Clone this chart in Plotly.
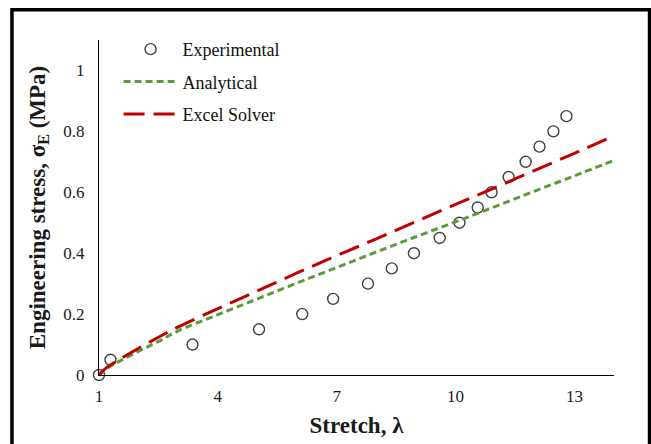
import plotly.graph_objects as go

# Experimental data (stretch, engineering stress)
exp_stretch = [1.0, 1.29, 3.36, 5.04, 6.13, 6.91, 7.79, 8.39, 8.95, 9.6, 10.1, 10.56, 10.91, 11.34, 11.77, 12.12, 12.47, 12.8]
exp_stress = [0.0, 0.05, 0.10, 0.15, 0.20, 0.25, 0.30, 0.35, 0.40, 0.45, 0.50, 0.55, 0.60, 0.65, 0.70, 0.75, 0.80, 0.85]

# Analytical curve
ana_stretch = [1.0, 1.1, 1.25, 1.5, 2.0, 2.5, 3.0, 4.0, 5.0, 6.0, 7.0, 8.0, 9.0, 10.0, 11.0, 12.0, 13.0, 14.0]
ana_stress = [0.0, 0.012, 0.026, 0.044, 0.078, 0.11, 0.145, 0.198, 0.25, 0.302, 0.353, 0.404, 0.454, 0.503, 0.553, 0.604, 0.654, 0.705]

# Excel Solver curve
sol_stretch = [1.0, 1.1, 1.25, 1.5, 2.0, 2.5, 3.0, 4.0, 5.0, 6.0, 7.0, 8.0, 9.0, 10.0, 11.0, 12.0, 13.0, 14.0]
sol_stress = [0.0, 0.014, 0.03, 0.05, 0.088, 0.124, 0.158, 0.218, 0.276, 0.335, 0.392, 0.447, 0.504, 0.56, 0.615, 0.672, 0.728, 0.785]

x_ticks = [1, 4, 7, 10, 13]
y_ticks = [0, 0.2, 0.4, 0.6, 0.8, 1.0]
y_ticktext = ["0", "0.2", "0.4", "0.6", "0.8", "1"]

serif = "Liberation Serif, Times New Roman, serif"
txt = "#1a1a1a"

fig = go.Figure()
fig.add_trace(go.Scatter(
    x=exp_stretch, y=exp_stress, mode="markers", name="Experimental",
    legendgroup="a",
    marker=dict(symbol="circle-open", size=11, color="#404040", line=dict(width=1.4, color="#404040")),
    cliponaxis=False,
))
fig.add_trace(go.Scatter(
    x=ana_stretch, y=ana_stress, mode="lines", name="Analytical",
    legendgroup="b", line_shape="spline",
    line=dict(color="#5B9B3B", width=3, dash="7px,4px"),
))
fig.add_trace(go.Scatter(
    x=sol_stretch, y=sol_stress, mode="lines", name="Excel Solver",
    legendgroup="c", line_shape="spline",
    line=dict(color="#C00000", width=3, dash="21px,9px"),
))

fig.update_layout(
    width=651, height=444,
    margin=dict(l=99, r=37, t=40, b=69),
    paper_bgcolor="white", plot_bgcolor="white",
    font=dict(family=serif, color=txt),
    showlegend=True,
    legend=dict(
        x=0.038, y=1.027, xanchor="left", yanchor="top",
        font=dict(family=serif, size=18, color="#111111"),
        itemwidth=54, tracegroupgap=6, bgcolor="rgba(0,0,0,0)",
    ),
    xaxis=dict(
        range=[1, 14], tickvals=x_ticks, showgrid=False, zeroline=False,
        showline=True, linecolor="black", linewidth=1.3, ticks="",
        automargin=False, ticklabelstandoff=5,
        tickfont=dict(family=serif, size=17, color=txt),
        title=dict(text="Stretch, λ", font=dict(family=serif, size=23, color=txt, weight="bold"), standoff=12),
    ),
    yaxis=dict(
        range=[0, 1.1], tickvals=y_ticks, ticktext=y_ticktext, showgrid=False, zeroline=False,
        showline=True, linecolor="black", linewidth=1.3, ticks="",
        automargin=False, ticklabelstandoff=10,
        tickfont=dict(family=serif, size=17, color=txt),
        title=dict(text="Engineering stress, σ<sub>E</sub> (MPa)", font=dict(family=serif, size=23, color=txt, weight="bold"), standoff=11),
    ),
    shapes=[dict(
        type="rect", xref="paper", yref="paper",
        x0=-0.169, x1=1.069, y0=-0.3, y1=1.09,
        line=dict(color="black", width=3.5), fillcolor="rgba(0,0,0,0)", layer="above",
    )],
)

fig.write_html(
    "out.html",
    config={"displayModeBar": False},
    post_script="document.body.style.margin='0';document.body.style.padding='0';document.body.style.overflow='hidden';",
)
